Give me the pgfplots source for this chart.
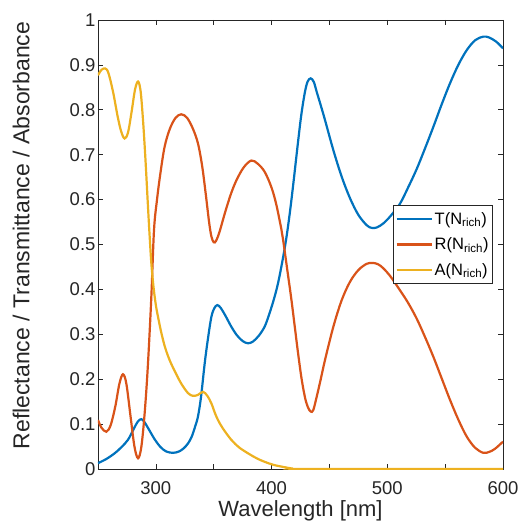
\documentclass[border=0pt]{standalone}
\usepackage{pgfplots}
\pgfplotsset{compat=1.18}
\usepackage{fontspec}
\setmainfont{Liberation Sans}
\definecolor{mT}{rgb}{0,0.447,0.741}
\definecolor{mR}{rgb}{0.85,0.325,0.098}
\definecolor{mA}{rgb}{0.929,0.694,0.125}
\definecolor{axgray}{rgb}{0.15,0.15,0.15}
\begin{document}
\begin{tikzpicture}
\begin{axis}[
  scale only axis,
  width=405pt, height=449pt,
  xmin=250, xmax=600, ymin=0, ymax=1,
  xtick={300,350,...,600},
  xticklabels={300,,400,,500,,600},
  ytick={0,0.1,...,1.0},
  yticklabels={0,0.1,0.2,0.3,0.4,0.5,0.6,0.7,0.8,0.9,1},
  tick align=inside,
  major tick length=5pt,
  axis line style={axgray, line width=0.6pt},
  tick style={axgray, line width=0.6pt},
  /pgf/number format/assume math mode=true,
  tick label style={font=\fontsize{18.5}{22}\selectfont, text=axgray},
  xticklabel style={yshift=-9pt},
  yticklabel style={xshift=1pt},
  xlabel={Wavelength [nm]},
  ylabel={Reflectance / Transmittance / Absorbance},
  xlabel style={font=\fontsize{22}{26}\selectfont, text=axgray, at={(axis description cs:0.5,-0.1047)}, anchor=base},
  ylabel style={font=\fontsize{23}{27}\selectfont, text=axgray, at={(axis description cs:-0.19,0.52)}, anchor=center},
  legend style={at={(rel axis cs:0.975,0.5)}, anchor=east, draw=axgray, line width=0.5pt,
    font=\fontsize{16.5}{19}\selectfont, row sep=8pt, inner xsep=2pt, inner ysep=5pt},
  legend cell align=left,
  legend image code/.code={\draw[#1, line width=2.2pt] (0pt,0pt) -- (35pt,0pt);},
]
\addplot[mT, line width=2.2pt, smooth, tension=0.55] table {
250 0.013
257 0.022
264.4 0.035
270 0.048
275.9 0.065
281 0.09
284.5 0.106
287.4 0.111
290 0.105
294 0.088
299 0.066
304 0.049
309 0.039
314.8 0.036
320 0.039
324 0.046
327.8 0.057
331 0.072
334 0.095
336.4 0.117
339 0.16
342.2 0.235
345 0.29
348 0.339
350.5 0.358
353.1 0.365
356 0.359
360 0.342
365.2 0.317
370 0.298
375 0.285
379.6 0.28
384 0.284
389 0.297
394 0.317
398 0.345
402 0.378
405.6 0.414
409.5 0.465
412.8 0.515
416 0.575
419 0.64
422.5 0.72
425.5 0.785
428.5 0.835
431 0.862
433.8 0.87
436.5 0.862
439 0.840
442.5 0.81
446.2 0.777
453.4 0.710
460.6 0.651
467.8 0.603
475 0.566
482.2 0.543
486.5 0.537
491 0.538
496.6 0.547
503 0.564
511 0.591
518 0.627
525.4 0.668
532.6 0.714
539.8 0.762
547 0.812
554.2 0.859
561.4 0.900
568.7 0.933
576 0.955
583 0.963
588 0.961
594 0.952
600 0.937
};
\addlegendentry{T(N\textsubscript{rich})}
\addplot[mR, line width=2.2pt, smooth, tension=0.55] table {
250 0.109
253 0.092
257.2 0.083
261 0.098
265 0.14
268.5 0.19
271.6 0.211
274.5 0.19
278 0.12
281.5 0.05
284.6 0.024
287.5 0.05
290.5 0.13
293.2 0.235
296.1 0.384
298.4 0.532
301 0.60
304 0.66
307.6 0.718
312 0.757
317 0.782
322 0.790
327 0.782
332 0.758
336.4 0.725
340 0.675
343 0.615
346 0.55
348 0.518
350 0.505
352 0.508
355 0.528
360 0.573
365.2 0.615
370 0.645
376 0.672
382.5 0.687
388 0.68
394 0.662
399.8 0.628
404 0.59
408.4 0.535
410 0.51
413.5 0.445
417 0.38
420 0.318
423 0.256
426 0.2
429 0.158
431.5 0.137
433.8 0.128
436 0.131
439 0.161
442.5 0.2
446.2 0.243
453.4 0.317
460.6 0.376
467.8 0.417
475 0.443
482.2 0.457
487.4 0.459
492 0.456
496.6 0.447
503 0.428
511 0.398
518 0.37
525.4 0.335
532.6 0.294
539.8 0.25
547 0.202
554.2 0.154
561.4 0.11
568.7 0.072
576 0.047
583 0.036
588 0.038
593.1 0.045
600 0.061
};
\addlegendentry{R(N\textsubscript{rich})}
\addplot[mA, line width=2.2pt, smooth, tension=0.55] table {
250 0.877
253 0.889
256.3 0.892
259 0.882
263 0.84
267 0.785
270 0.752
273 0.736
276 0.75
279 0.795
282 0.845
284.6 0.863
286.8 0.842
288.9 0.777
291 0.69
293.2 0.584
294.6 0.52
296.1 0.458
298 0.405
300 0.365
302 0.337
304.5 0.306
307.6 0.274
311.5 0.245
316.3 0.218
322 0.19
327.8 0.169
332 0.163
336.4 0.165
340.7 0.172
344.5 0.163
348 0.146
351 0.125
353.7 0.109
358 0.09
365.2 0.065
372 0.048
379.6 0.035
387 0.024
394 0.016
402 0.009
411.3 0.004
418 0.001
425 0
500 0
600 0
};
\addlegendentry{A(N\textsubscript{rich})}
\end{axis}
\pgfresetboundingbox
\path (current axis.south west) ++(-98pt,-53pt) coordinate (bl);
\path (current axis.north east) ++(19pt,20pt) coordinate (tr);
\path[use as bounding box] (bl) rectangle (tr);
\end{tikzpicture}
\end{document}
